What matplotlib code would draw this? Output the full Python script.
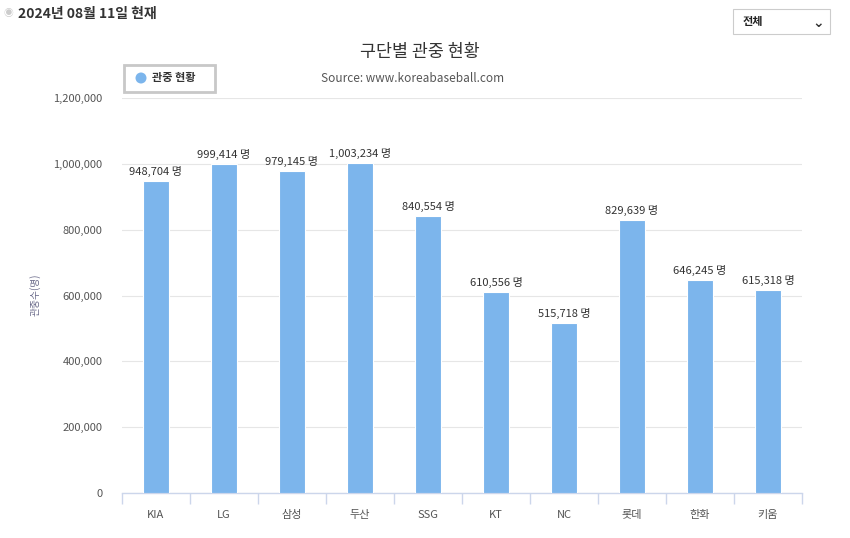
import matplotlib.pyplot as plt
from matplotlib.patches import Rectangle, Ellipse
from matplotlib.ticker import FuncFormatter, MultipleLocator

plt.rcParams['font.family'] = ['Noto Sans CJK KR', 'DejaVu Sans']

teams = ['KIA', 'LG', '삼성', '두산', 'SSG', 'KT', 'NC', '롯데', '한화', '키움']
attendance = [948704, 999414, 979145, 1003234, 840554, 610556, 515718, 829639, 646245, 615318]

bar_color = '#7cb5ec'
axis_color = '#ccd6eb'

fig = plt.figure(figsize=(8.5, 5.38), dpi=100)
ax = fig.add_axes([0.1435, 0.0836, 0.80, 0.7342])

x = list(range(len(teams)))
ax.bar(x, attendance, width=0.37, color=bar_color, edgecolor='white', linewidth=0.8, zorder=3)

for xi, v in zip(x, attendance):
    ax.annotate(f'{v:,} 명', (xi, v), xytext=(0, 3), textcoords='offset points',
                ha='center', va='bottom', fontsize=8, color='#333333', zorder=4)

ax.set_xlim(-0.5, len(teams) - 0.5)
ax.set_ylim(0, 1200000)
ax.yaxis.set_major_locator(MultipleLocator(200000))
ax.yaxis.set_major_formatter(FuncFormatter(lambda v, p: f'{int(v):,}'))
ax.grid(axis='y', color='#e6e6e6', linewidth=0.8, zorder=0)

for s in ['top', 'right', 'left']:
    ax.spines[s].set_visible(False)
ax.spines['bottom'].set_color(axis_color)
ax.spines['bottom'].set_linewidth(1)

ax.tick_params(axis='y', length=0, labelsize=8, labelcolor='#555555', pad=14)
ax.set_xticks(x)
ax.set_xticklabels(teams)
ax.tick_params(axis='x', length=0, labelsize=8, labelcolor='#555555', pad=12)
ax.set_xticks([i - 0.5 for i in range(len(teams) + 1)], minor=True)
ax.tick_params(axis='x', which='minor', length=8, color=axis_color, width=1)

fig.text(35 / 850, 1 - 295 / 538, '관중수(명)', fontsize=7, color='#6a6a8a',
         rotation=90, va='center', ha='center')

# header
fig.text(0.004, 0.975, '◉', fontsize=7, color='#cccccc', va='center', ha='left')
fig.text(0.021, 0.975, '2024년 08월 11일 현재', fontsize=10, fontweight='bold',
         color='#333333', va='center', ha='left')

# dropdown box
fig.patches.append(Rectangle((733 / 850, 1 - 34 / 538), 97 / 850, 25 / 538,
                             transform=fig.transFigure, facecolor='white',
                             edgecolor='#cccccc', linewidth=0.8))
fig.text(743 / 850, 1 - 21.5 / 538, '전체', fontsize=8, fontweight='bold',
         color='#222222', va='center', ha='left')
fig.text(818 / 850, 1 - 23 / 538, '⌄', fontsize=10, fontweight='bold',
         color='#333333', va='center', ha='center', family=['DejaVu Sans'])

# title
fig.text(420 / 850, 1 - 52 / 538, '구단별 관중 현황', fontsize=12.5, color='#333333',
         va='center', ha='center')
fig.text(413 / 850, 1 - 78 / 538, 'Source: www.koreabaseball.com', fontsize=8.5,
         color='#555555', va='center', ha='center')

# legend box
fig.patches.append(Rectangle((124 / 850, 1 - 92 / 538), 91 / 850, 27 / 538,
                             transform=fig.transFigure, facecolor='white',
                             edgecolor='#c8c8c8', linewidth=2))
fig.patches.append(Ellipse((141 / 850, 1 - 78 / 538), 11 / 850, 11 / 538,
                           transform=fig.transFigure, facecolor=bar_color,
                           edgecolor='none'))
fig.text(152 / 850, 1 - 78 / 538, '관중 현황', fontsize=8, fontweight='bold',
         color='#333333', va='center', ha='left')

fig.savefig('out.png', dpi=100)
